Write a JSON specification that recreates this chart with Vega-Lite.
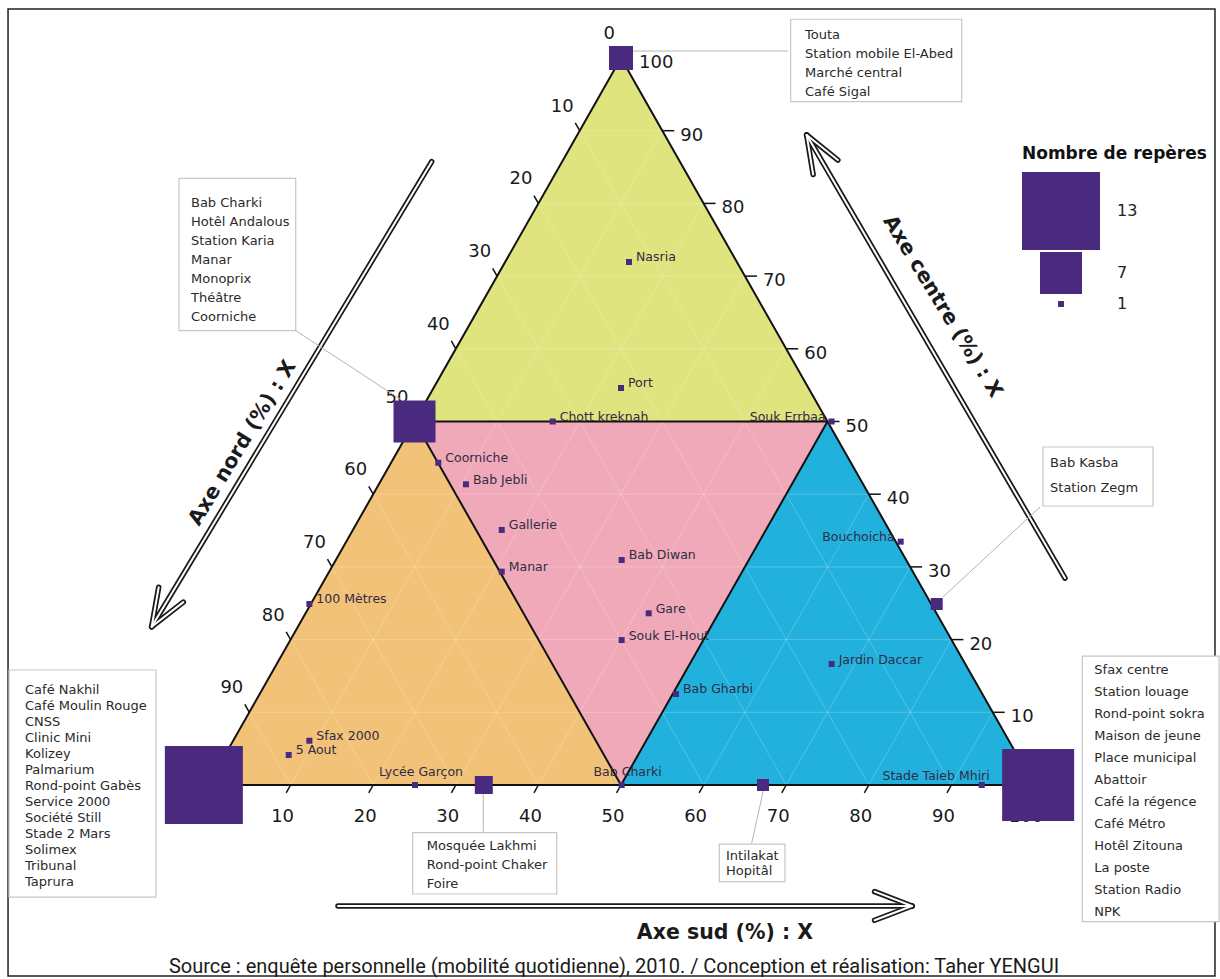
{
"$schema":"https://vega.github.io/schema/vega-lite/v6.json",
"width":1220,"height":979,"autosize":{"type":"none"},"padding":0,"background":"#ffffff",
"config":{"view":{"stroke":null},"text":{"font":"DejaVu Sans"}},
"datasets":{
"zones":[
{"zone":"haut","x":25,"y":50,"y2":50},{"zone":"haut","x":50,"y":100,"y2":50},{"zone":"haut","x":75,"y":50,"y2":50},
{"zone":"gauche","x":0,"y":0,"y2":0},{"zone":"gauche","x":25,"y":50,"y2":0},{"zone":"gauche","x":50,"y":0,"y2":0},
{"zone":"droite","x":50,"y":0,"y2":0},{"zone":"droite","x":75,"y":50,"y2":0},{"zone":"droite","x":100,"y":0,"y2":0},
{"zone":"milieu","x":25,"y":50,"y2":50},{"zone":"milieu","x":50,"y":50,"y2":0},{"zone":"milieu","x":75,"y":50,"y2":50}
],
"grille":[
{"x":5,"y":10,"x2":95,"y2":10},{"x":10,"y":20,"x2":90,"y2":20},{"x":15,"y":30,"x2":85,"y2":30},{"x":20,"y":40,"x2":80,"y2":40},{"x":30,"y":60,"x2":70,"y2":60},{"x":35,"y":70,"x2":65,"y2":70},{"x":40,"y":80,"x2":60,"y2":80},{"x":45,"y":90,"x2":55,"y2":90},
{"x":10,"y":0,"x2":55,"y2":90},{"x":20,"y":0,"x2":60,"y2":80},{"x":30,"y":0,"x2":65,"y2":70},{"x":40,"y":0,"x2":70,"y2":60},{"x":60,"y":0,"x2":80,"y2":40},{"x":70,"y":0,"x2":85,"y2":30},{"x":80,"y":0,"x2":90,"y2":20},{"x":90,"y":0,"x2":95,"y2":10},
{"x":10,"y":0,"x2":5,"y2":10},{"x":20,"y":0,"x2":10,"y2":20},{"x":30,"y":0,"x2":15,"y2":30},{"x":40,"y":0,"x2":20,"y2":40},{"x":60,"y":0,"x2":30,"y2":60},{"x":70,"y":0,"x2":35,"y2":70},{"x":80,"y":0,"x2":40,"y2":80},{"x":90,"y":0,"x2":45,"y2":90}
],
"aretes":[
{"x":0,"y":0,"x2":50,"y2":100},{"x":50,"y":100,"x2":100,"y2":0},{"x":0,"y":0,"x2":100,"y2":0},
{"x":25,"y":50,"x2":75,"y2":50},{"x":75,"y":50,"x2":50,"y2":0},{"x":50,"y":0,"x2":25,"y2":50}
],
"graduations":[
{"axe":"nord","v":0,"x":50,"y":100},{"axe":"nord","v":10,"x":45,"y":90},{"axe":"nord","v":20,"x":40,"y":80},{"axe":"nord","v":30,"x":35,"y":70},{"axe":"nord","v":40,"x":30,"y":60},{"axe":"nord","v":50,"x":25,"y":50},{"axe":"nord","v":60,"x":20,"y":40},{"axe":"nord","v":70,"x":15,"y":30},{"axe":"nord","v":80,"x":10,"y":20},{"axe":"nord","v":90,"x":5,"y":10},{"axe":"nord","v":100,"x":0,"y":0},
{"axe":"centre","v":0,"x":100,"y":0},{"axe":"centre","v":10,"x":95,"y":10},{"axe":"centre","v":20,"x":90,"y":20},{"axe":"centre","v":30,"x":85,"y":30},{"axe":"centre","v":40,"x":80,"y":40},{"axe":"centre","v":50,"x":75,"y":50},{"axe":"centre","v":60,"x":70,"y":60},{"axe":"centre","v":70,"x":65,"y":70},{"axe":"centre","v":80,"x":60,"y":80},{"axe":"centre","v":90,"x":55,"y":90},{"axe":"centre","v":100,"x":50,"y":100},
{"axe":"sud","v":0,"x":0,"y":0},{"axe":"sud","v":10,"x":10,"y":0},{"axe":"sud","v":20,"x":20,"y":0},{"axe":"sud","v":30,"x":30,"y":0},{"axe":"sud","v":40,"x":40,"y":0},{"axe":"sud","v":50,"x":50,"y":0},{"axe":"sud","v":60,"x":60,"y":0},{"axe":"sud","v":70,"x":70,"y":0},{"axe":"sud","v":80,"x":80,"y":0},{"axe":"sud","v":90,"x":90,"y":0},{"axe":"sud","v":100,"x":100,"y":0}
],
"fleches":[
{"x":27.08,"y":85.74,"x2":-6.82,"y2":21.77},{"x":-6.82,"y":21.77,"x2":-2.99,"y2":25.16},{"x":-6.82,"y":21.77,"x2":-5.97,"y2":27.19},
{"x":103.75,"y":28.47,"x2":72.48,"y2":89.41},{"x":72.48,"y":89.41,"x2":73.26,"y2":83.98},{"x":72.48,"y":89.41,"x2":76.26,"y2":85.96},
{"x":15.74,"y":-16.64,"x2":85.23,"y2":-16.64},{"x":85.23,"y":-16.64,"x2":80.7,"y2":-14.67},{"x":85.23,"y":-16.64,"x2":80.7,"y2":-18.61}
],
"traits":[
{"x":51.45,"y":100.96,"x2":70.22,"y2":100.96},
{"x":10.62,"y":62.49,"x2":23.41,"y2":52.96},
{"x":33.33,"y":-1.14,"x2":33.33,"y2":-6.42},
{"x":67.23,"y":-0.78,"x2":65.82,"y2":-8.02},
{"x":88.98,"y":25.86,"x2":100.73,"y2":38.24}
],
"boites":[
{"id":"touta","x":70.54,"y":105.33,"x2":91.25,"y2":93.99,"tx":72.28,"ty":103.93,"lignes":"Touta\nStation mobile El-Abed\nMarché central\nCafé Sigal"},
{"id":"charki","x":-3.51,"y":83.45,"x2":10.62,"y2":62.49,"tx":-2.06,"ty":80.87,"lignes":"Bab Charki\nHotêl Andalous\nStation Karia\nManar\nMonoprix\nThéâtre\nCoorniche"},
{"id":"nakhil","x":-24.09,"y":15.82,"x2":-6.3,"y2":-15.41,"tx":-22.15,"ty":13.84,"lignes":"Café Nakhil\nCafé Moulin Rouge\nCNSS\nClinic Mini\nKolizey\nPalmarium\nRond-point Gabès\nService 2000\nSociété Still\nStade 2 Mars\nSolimex\nTribunal\nTaprura"},
{"id":"sfax","x":105.85,"y":17.74,"x2":122.4,"y2":-18.8,"tx":107.3,"ty":16.59,"lignes":"Sfax centre\nStation louage\nRond-point sokra\nMaison de jeune\nPlace municipal\nAbattoir\nCafé la régence\nCafé Métro\nHotêl Zitouna\nLa poste\nStation Radio\nNPK"},
{"id":"mosquee","x":24.78,"y":-6.56,"x2":42.22,"y2":-14.99,"tx":26.48,"ty":-7.62,"lignes":"Mosquée Lakhmi\nRond-point Chaker\nFoire"},
{"id":"intilakat","x":61.9,"y":-8.12,"x2":69.85,"y2":-13.3,"tx":62.71,"ty":-9.0,"lignes":"Intilakat\nHopitâl"},
{"id":"kasba","x":101.09,"y":46.49,"x2":114.41,"y2":38.38,"tx":101.94,"ty":45.06,"lignes":"Bab Kasba\nStation Zegm"}
],
"reperes":[
{"nom":"Nasria","x":50.97,"y":71.94,"n":1,"etiquette":"droite"},
{"nom":"Port","x":50.0,"y":54.61,"n":1,"etiquette":"droite"},
{"nom":"Chott kreknah","x":41.73,"y":50.0,"n":1,"etiquette":"droite"},
{"nom":"Souk Errbaa","x":75.5,"y":50.0,"n":1,"etiquette":"gauche"},
{"nom":"Coorniche","x":27.88,"y":44.33,"n":1,"etiquette":"droite"},
{"nom":"Bab Jebli","x":31.23,"y":41.36,"n":1,"etiquette":"droite"},
{"nom":"Gallerie","x":35.56,"y":35.08,"n":1,"etiquette":"droite"},
{"nom":"Manar","x":35.56,"y":29.34,"n":1,"etiquette":"droite"},
{"nom":"Bab Diwan","x":50.08,"y":30.95,"n":1,"etiquette":"droite"},
{"nom":"Gare","x":53.35,"y":23.62,"n":1,"etiquette":"droite"},
{"nom":"Souk El-Hout","x":50.08,"y":19.94,"n":1,"etiquette":"droite"},
{"nom":"Bab Gharbi","x":56.66,"y":12.52,"n":1,"etiquette":"droite"},
{"nom":"Bab Charki","x":50.08,"y":0,"n":1,"etiquette":"dessus"},
{"nom":"Lycée Garçon","x":25.06,"y":0,"n":1,"etiquette":"dessus"},
{"nom":"Stade Taieb Mhiri","x":93.67,"y":0,"n":1,"etiquette":"dessus-gauche"},
{"nom":"100 Mètres","x":12.27,"y":24.9,"n":1,"etiquette":"droite"},
{"nom":"Sfax 2000","x":12.27,"y":6.09,"n":1,"etiquette":"droite"},
{"nom":"5 Aout","x":9.77,"y":4.13,"n":1,"etiquette":"droite"},
{"nom":"Bouchoicha","x":83.86,"y":33.47,"n":1,"etiquette":"gauche"},
{"nom":"Jardin Daccar","x":75.5,"y":16.64,"n":1,"etiquette":"droite"},
{"nom":"Touta / Station mobile El-Abed / Marché central / Café Sigal","x":50,"y":100,"n":4,"etiquette":"boite"},
{"nom":"Bab Charki / Hotêl Andalous / Station Karia / Manar / Monoprix / Théâtre / Coorniche","x":25,"y":50,"n":7,"etiquette":"boite"},
{"nom":"Café Nakhil / Café Moulin Rouge / CNSS / Clinic Mini / Kolizey / Palmarium / Rond-point Gabès / Service 2000 / Société Still / Stade 2 Mars / Solimex / Tribunal / Taprura","x":-0.5,"y":0,"n":13,"etiquette":"boite"},
{"nom":"Sfax centre / Station louage / Rond-point sokra / Maison de jeune / Place municipal / Abattoir / Café la régence / Café Métro / Hotêl Zitouna / La poste / Station Radio / NPK","x":100.5,"y":0,"n":12,"etiquette":"boite"},
{"nom":"Mosquée Lakhmi / Rond-point Chaker / Foire","x":33.39,"y":0,"n":3,"etiquette":"boite"},
{"nom":"Intilakat / Hopitâl","x":67.19,"y":0,"n":2,"etiquette":"boite"},
{"nom":"Bab Kasba / Station Zegm","x":88.22,"y":24.9,"n":2,"etiquette":"boite"}
]
},
"encoding":{
"x":{"field":"x","type":"quantitative","scale":{"domain":[-25.182,122.518],"nice":false,"zero":false},"axis":null},
"y":{"field":"y","type":"quantitative","scale":{"domain":[-26.685,107.978],"nice":false,"zero":false},"axis":null}
},
"layer":[
{"data":{"values":[{"x":-24.21,"y":106.74,"x2":121.91,"y2":-26.27}]},"mark":{"type":"rect","filled":false,"color":"#222222","strokeWidth":1.5},"encoding":{"x2":{"field":"x2"},"y2":{"field":"y2"}}},
{"data":{"name":"zones"},"mark":{"type":"area","interpolate":"linear","opacity":1},"encoding":{"y2":{"field":"y2"},"color":{"field":"zone","type":"nominal","scale":{"domain":["haut","gauche","milieu","droite"],"range":["#dfe47f","#f2c278","#f0a9b8","#22b1dd"]},"legend":null}}},
{"data":{"name":"grille"},"mark":{"type":"rule","color":"#ffffff","opacity":0.22,"strokeWidth":1},"encoding":{"x2":{"field":"x2"},"y2":{"field":"y2"}}},
{"data":{"name":"aretes"},"mark":{"type":"rule","color":"#111111","strokeWidth":2,"strokeCap":"round"},"encoding":{"x2":{"field":"x2"},"y2":{"field":"y2"}}},
{"data":{"name":"graduations"},"transform":[{"filter":"datum.v > 0 && datum.v < 100"}],"mark":{"type":"point","filled":false,"size":324,"color":"#111111","strokeWidth":1.5,"opacity":1},"encoding":{"shape":{"field":"axe","type":"nominal","scale":{"domain":["nord","centre","sud"],"range":["M0,0L-0.494,-0.87","M0,0L1.333,0","M0,0L-0.494,0.87"]},"legend":null}}},
{"data":{"name":"graduations"},"transform":[{"filter":"datum.axe == 'nord'"}],"mark":{"type":"text","align":"right","baseline":"middle","dx":-6,"dy":-24,"fontSize":18,"color":"#1a1a1a"},"encoding":{"text":{"field":"v","type":"quantitative"}}},
{"data":{"name":"graduations"},"transform":[{"filter":"datum.axe == 'centre'"}],"mark":{"type":"text","align":"left","baseline":"middle","dx":18,"dy":5,"fontSize":18,"color":"#1a1a1a"},"encoding":{"text":{"field":"v","type":"quantitative"}}},
{"data":{"name":"graduations"},"transform":[{"filter":"datum.axe == 'sud'"}],"mark":{"type":"text","align":"center","baseline":"middle","dx":-8,"dy":32,"fontSize":18,"color":"#1a1a1a"},"encoding":{"text":{"field":"v","type":"quantitative"}}},
{"data":{"name":"fleches"},"mark":{"type":"rule","color":"#1a1a1a","strokeWidth":5.5,"strokeCap":"round"},"encoding":{"x2":{"field":"x2"},"y2":{"field":"y2"}}},
{"data":{"name":"fleches"},"mark":{"type":"rule","color":"#ffffff","strokeWidth":2,"strokeCap":"round"},"encoding":{"x2":{"field":"x2"},"y2":{"field":"y2"}}},
{"data":{"name":"traits"},"mark":{"type":"rule","color":"#b4b4b4","strokeWidth":1},"encoding":{"x2":{"field":"x2"},"y2":{"field":"y2"}}},
{"data":{"name":"boites"},"mark":{"type":"rect","fill":"#ffffff","stroke":"#c6c6c6","strokeWidth":1.2},"encoding":{"x2":{"field":"x2"},"y2":{"field":"y2"}}},
{"data":{"name":"boites"},"transform":[{"filter":{"field":"id","oneOf":["touta","charki","mosquee"]}}],"mark":{"type":"text","align":"left","baseline":"top","fontSize":13,"lineBreak":"\n","lineHeight":19,"color":"#2a2a2a"},"encoding":{"x":{"field":"tx","type":"quantitative","axis":null},"y":{"field":"ty","type":"quantitative","axis":null},"text":{"field":"lignes"}}},
{"data":{"name":"boites"},"transform":[{"filter":{"field":"id","oneOf":["nakhil"]}}],"mark":{"type":"text","align":"left","baseline":"top","fontSize":13,"lineBreak":"\n","lineHeight":16,"color":"#2a2a2a"},"encoding":{"x":{"field":"tx","type":"quantitative","axis":null},"y":{"field":"ty","type":"quantitative","axis":null},"text":{"field":"lignes"}}},
{"data":{"name":"boites"},"transform":[{"filter":{"field":"id","oneOf":["sfax"]}}],"mark":{"type":"text","align":"left","baseline":"top","fontSize":13,"lineBreak":"\n","lineHeight":22,"color":"#2a2a2a"},"encoding":{"x":{"field":"tx","type":"quantitative","axis":null},"y":{"field":"ty","type":"quantitative","axis":null},"text":{"field":"lignes"}}},
{"data":{"name":"boites"},"transform":[{"filter":{"field":"id","oneOf":["intilakat"]}}],"mark":{"type":"text","align":"left","baseline":"top","fontSize":13,"lineBreak":"\n","lineHeight":15,"color":"#2a2a2a"},"encoding":{"x":{"field":"tx","type":"quantitative","axis":null},"y":{"field":"ty","type":"quantitative","axis":null},"text":{"field":"lignes"}}},
{"data":{"name":"boites"},"transform":[{"filter":{"field":"id","oneOf":["kasba"]}}],"mark":{"type":"text","align":"left","baseline":"top","fontSize":13,"lineBreak":"\n","lineHeight":25,"color":"#2a2a2a"},"encoding":{"x":{"field":"tx","type":"quantitative","axis":null},"y":{"field":"ty","type":"quantitative","axis":null},"text":{"field":"lignes"}}},
{"data":{"name":"reperes"},"mark":{"type":"point","shape":"square","filled":true,"color":"#4a2a7e","opacity":1,"strokeWidth":0},"encoding":{"size":{"field":"n","type":"quantitative","scale":{"type":"pow","exponent":2,"domain":[0,13],"range":[0,6084]},"legend":{"values":[13,7,1],"title":"Nombre de repères","orient":"none","legendX":1022,"legendY":146,"symbolType":"square","symbolFillColor":"#4a2a7e","symbolStrokeColor":"#4a2a7e","symbolStrokeWidth":0,"symbolOpacity":1,"labelFont":"DejaVu Sans","labelFontSize":16,"labelColor":"#222222","labelOffset":17,"titleFont":"DejaVu Sans","titleFontSize":17,"titleFontWeight":"bold","titleColor":"#111111","titleLimit":400,"titlePadding":9,"rowPadding":2,"padding":0}}}},
{"data":{"name":"reperes"},"transform":[{"filter":"datum.etiquette == 'droite'"}],"mark":{"type":"text","align":"left","baseline":"middle","dx":7,"dy":-4.5,"fontSize":12.5,"color":"#2f2c45"},"encoding":{"text":{"field":"nom"}}},
{"data":{"name":"reperes"},"transform":[{"filter":"datum.etiquette == 'gauche'"}],"mark":{"type":"text","align":"right","baseline":"middle","dx":-6,"dy":-5,"fontSize":12.5,"color":"#2f2c45"},"encoding":{"text":{"field":"nom"}}},
{"data":{"name":"reperes"},"transform":[{"filter":"datum.etiquette == 'dessus'"}],"mark":{"type":"text","align":"center","baseline":"middle","dx":6,"dy":-13,"fontSize":12.5,"color":"#2f2c45"},"encoding":{"text":{"field":"nom"}}},
{"data":{"name":"reperes"},"transform":[{"filter":"datum.etiquette == 'dessus-gauche'"}],"mark":{"type":"text","align":"right","baseline":"middle","dx":8,"dy":-9,"fontSize":12.5,"color":"#2f2c45"},"encoding":{"text":{"field":"nom"}}},
{"data":{"values":[{"x":4.18,"y":47.04,"t":"Axe nord (%) : X"}]},"mark":{"type":"text","align":"center","baseline":"middle","angle":301.1,"fontSize":20.5,"fontWeight":"bold","color":"#1a1a1a"},"encoding":{"text":{"field":"t"}}},
{"data":{"values":[{"x":88.92,"y":65.79,"t":"Axe centre (%) : X"}]},"mark":{"type":"text","align":"center","baseline":"middle","angle":58.5,"fontSize":20.5,"fontWeight":"bold","color":"#1a1a1a"},"encoding":{"text":{"field":"t"}}},
{"data":{"values":[{"x":62.59,"y":-20.36,"t":"Axe sud (%) : X"}]},"mark":{"type":"text","align":"center","baseline":"middle","fontSize":20.5,"fontWeight":"bold","color":"#1a1a1a"},"encoding":{"text":{"field":"t"}}},
{"data":{"values":[{"x":49.15,"y":-25.03,"t":"Source : enquête personnelle (mobilité quotidienne), 2010. / Conception et réalisation: Taher YENGUI"}]},"mark":{"type":"text","align":"center","baseline":"middle","font":"Roboto","fontSize":20,"color":"#1a1a1a"},"encoding":{"text":{"field":"t"}}}
]
}
